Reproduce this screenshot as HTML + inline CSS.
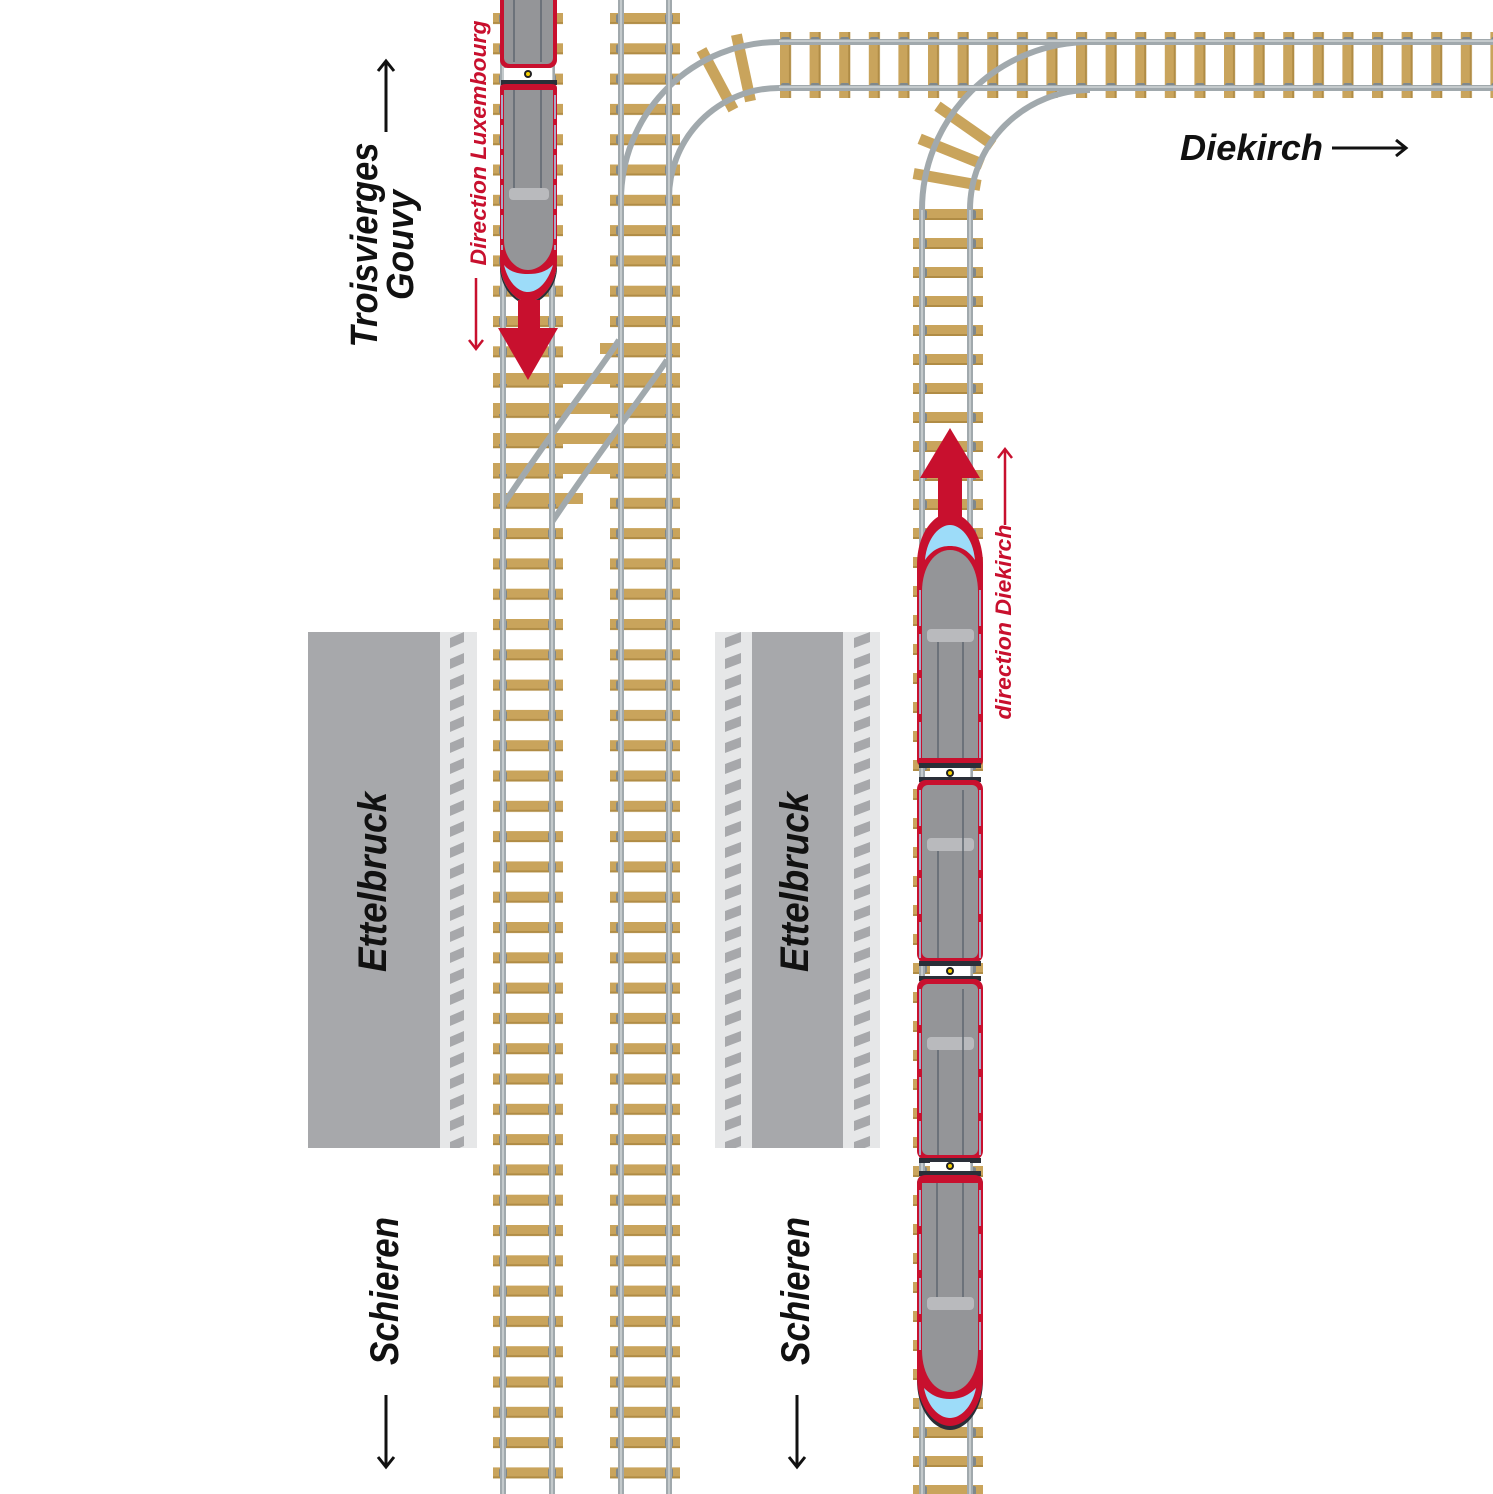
<!DOCTYPE html>
<html><head><meta charset="utf-8"><style>
html,body{margin:0;padding:0;background:#fff;}
svg{display:block;}
text{font-family:"Liberation Sans",sans-serif;font-weight:bold;font-style:italic;}
</style></head><body>
<svg width="1493" height="1494" viewBox="0 0 1493 1494" xmlns="http://www.w3.org/2000/svg">
<defs>
<pattern id="slv" x="493" y="13" width="70" height="30.3" patternUnits="userSpaceOnUse">
<rect x="0" y="0" width="70" height="11" fill="#c9a45c"/><rect x="0" y="9" width="70" height="2" fill="#b08c45"/>
<rect x="6" y="1" width="8" height="9" rx="2" fill="#7f888c"/><rect x="55" y="1" width="8" height="9" rx="2" fill="#7f888c"/>
</pattern>
<pattern id="slv2" x="610" y="13" width="70" height="30.3" patternUnits="userSpaceOnUse">
<rect x="0" y="0" width="70" height="11" fill="#c9a45c"/><rect x="0" y="9" width="70" height="2" fill="#b08c45"/>
<rect x="6" y="1" width="8" height="9" rx="2" fill="#7f888c"/><rect x="55" y="1" width="8" height="9" rx="2" fill="#7f888c"/>
</pattern>
<pattern id="slv3" x="913" y="6" width="70" height="29" patternUnits="userSpaceOnUse">
<rect x="0" y="0" width="70" height="11" fill="#c9a45c"/><rect x="0" y="9" width="70" height="2" fill="#b08c45"/>
<rect x="6" y="1" width="8" height="9" rx="2" fill="#7f888c"/><rect x="55" y="1" width="8" height="9" rx="2" fill="#7f888c"/>
</pattern>
<pattern id="slh" x="780" y="32" width="29.6" height="66" patternUnits="userSpaceOnUse">
<rect x="0" y="0" width="11" height="66" fill="#c9a45c"/><rect x="9" y="0" width="2" height="66" fill="#b08c45"/>
<rect x="1" y="5" width="9" height="8" rx="2" fill="#7f888c"/><rect x="1" y="51" width="9" height="8" rx="2" fill="#7f888c"/>
</pattern>
<pattern id="dashA" x="450" y="632" width="40" height="21" patternUnits="userSpaceOnUse">
<polygon points="0,6 14,0 14,10 0,16" fill="#a7a8ab"/>
</pattern>
<pattern id="dashB" x="725" y="632" width="40" height="21" patternUnits="userSpaceOnUse">
<polygon points="0,6 16,0 16,10 0,16" fill="#a7a8ab"/>
</pattern>
<pattern id="dashC" x="854" y="632" width="40" height="21" patternUnits="userSpaceOnUse">
<polygon points="0,6 16,0 16,10 0,16" fill="#a7a8ab"/>
</pattern>
</defs>

<rect x="493" y="0" width="70" height="1494" fill="url(#slv)"/>
<rect x="610" y="0" width="70" height="1494" fill="url(#slv2)"/>
<rect x="913" y="200" width="70" height="1294" fill="url(#slv3)"/>
<rect x="780" y="32" width="713" height="66" fill="url(#slh)"/>
<g fill="#c9a45c">
<rect x="600" y="343" width="80" height="11"/>
<rect x="493" y="373" width="187" height="11"/>
<rect x="493" y="403" width="187" height="11"/>
<rect x="493" y="433" width="187" height="11"/>
<rect x="493" y="463" width="187" height="11"/>
<rect x="493" y="493" width="90" height="11"/>
</g>
<g fill="#c9a45c">
<rect x="738" y="34" width="11" height="68" transform="rotate(-12 743 68)"/>
<rect x="712" y="46" width="11" height="68" transform="rotate(-28 717 80)"/>
<rect x="960" y="92" width="11" height="68" transform="rotate(-55 965 126)"/>
<rect x="946" y="118" width="11" height="68" transform="rotate(-68 951 152)"/>
<rect x="942" y="146" width="11" height="68" transform="rotate(-80 947 180)"/>
</g>

<g fill="none" stroke="#a1a9ad" stroke-width="6">
<line x1="503" y1="0" x2="503" y2="1494"/><line x1="552" y1="0" x2="552" y2="1494"/>
<line x1="621" y1="0" x2="621" y2="1494"/><line x1="669" y1="0" x2="669" y2="1494"/>
<line x1="922" y1="210" x2="922" y2="1494"/><line x1="970" y1="210" x2="970" y2="1494"/>
<line x1="779" y1="42" x2="1493" y2="42"/><line x1="779" y1="88" x2="1493" y2="88"/>
<path d="M621 200 A158 158 0 0 1 779 42"/>
<path d="M669 200 A110 110 0 0 1 779 88"/>
<path d="M922 210 A168 168 0 0 1 1090 42"/>
<path d="M970 210 A120 120 0 0 1 1090 90"/>
<path d="M619 340 C600 370 560 420 503 505"/>
<path d="M667 360 C640 400 600 450 552 522"/>
</g>
<g fill="none" stroke="#cfd5d7" stroke-width="1.5">
<line x1="503" y1="0" x2="503" y2="1494"/><line x1="552" y1="0" x2="552" y2="1494"/>
<line x1="621" y1="0" x2="621" y2="1494"/><line x1="669" y1="0" x2="669" y2="1494"/>
<line x1="922" y1="210" x2="922" y2="1494"/><line x1="970" y1="210" x2="970" y2="1494"/>
<line x1="779" y1="41" x2="1493" y2="41"/><line x1="779" y1="87" x2="1493" y2="87"/>
</g>

<rect x="308" y="632" width="132" height="516" fill="#a7a8ab"/>
<rect x="440" y="632" width="37" height="516" fill="#e6e7e8"/>
<rect x="450" y="632" width="14" height="516" fill="url(#dashA)"/>
<rect x="752" y="632" width="91" height="516" fill="#a7a8ab"/>
<rect x="715" y="632" width="37" height="516" fill="#e6e7e8"/>
<rect x="843" y="632" width="37" height="516" fill="#e6e7e8"/>
<rect x="725" y="632" width="16" height="516" fill="url(#dashB)"/>
<rect x="854" y="632" width="16" height="516" fill="url(#dashC)"/>

<rect x="500" y="-12" width="57" height="80" rx="8" fill="#c8102e"/>
<rect x="504" y="-12" width="49" height="76" rx="6" fill="#949598"/>
<line x1="514" y1="0" x2="514" y2="62" stroke="#5f6770" stroke-width="1.5"/><line x1="541" y1="0" x2="541" y2="62" stroke="#5f6770" stroke-width="1.5"/>
<rect x="504" y="68" width="48" height="12" fill="#fff"/>
<circle cx="528" cy="74" r="4" fill="#222"/><circle cx="528" cy="74" r="2" fill="#f5d000"/>
<rect x="501" y="80" width="56" height="5" fill="#2a2f38"/>
<path d="M500 88 Q500 84 506 84 L551 84 Q557 84 557 88 L557 262 C557 285 540 302 528 302 C516 302 500 285 500 262Z" fill="#c8102e"/>
<path d="M500 262 C500 285 516 302 528 302 C540 302 557 285 557 262 L557 270 C555 290 540 304 528 304 C516 304 502 290 500 270Z" fill="#2a2f38"/>
<path d="M504 265 C508 282 518 292 528 292 C538 292 548 282 553 265 C546 272 538 274 528 274 C518 274 510 272 504 265Z" fill="#9ddcf9"/>
<path d="M504 90 L553 90 L553 240 C553 258 540 270 528 270 C516 270 504 258 504 240Z" fill="#949598"/>
<line x1="514" y1="90" x2="514" y2="188" stroke="#5f6770" stroke-width="1.5"/><line x1="541" y1="90" x2="541" y2="188" stroke="#5f6770" stroke-width="1.5"/>
<rect x="509" y="188" width="40" height="12" rx="4" fill="#b9babd"/>
<line x1="502" y1="95" x2="502" y2="250" stroke="#9ddcf9" stroke-width="1.5" stroke-dasharray="24 6"/>
<line x1="555" y1="95" x2="555" y2="250" stroke="#9ddcf9" stroke-width="1.5" stroke-dasharray="24 6"/>
<rect x="518" y="300" width="22" height="30" fill="#c8102e"/>
<polygon points="498,328 558,328 528,380" fill="#c8102e"/>

<rect x="938" y="474" width="24" height="46" fill="#c8102e"/>
<polygon points="920,478 980,478 950,428" fill="#c8102e"/>
<path d="M917 760 L917 565 C917 532 935 513 950 513 C965 513 983 532 983 565 L983 760 Q983 766 977 766 L923 766 Q917 766 917 760Z" fill="#c8102e"/>
<path d="M925 560 C927 537 940 525 950 525 C960 525 973 537 975 560 C968 550 960 546 950 546 C940 546 932 550 925 560Z" fill="#9ddcf9"/>
<path d="M922 758 L922 592 C922 566 935 550 950 550 C965 550 978 566 978 592 L978 758Z" fill="#949598"/>
<rect x="927" y="629" width="47" height="13" rx="4" fill="#b9babd"/>
<line x1="938" y1="642" x2="938" y2="758" stroke="#5f6770" stroke-width="1.5"/><line x1="963" y1="642" x2="963" y2="758" stroke="#5f6770" stroke-width="1.5"/>
<line x1="920" y1="590" x2="920" y2="758" stroke="#9ddcf9" stroke-width="1.5" stroke-dasharray="36 8"/>
<line x1="980" y1="590" x2="980" y2="758" stroke="#9ddcf9" stroke-width="1.5" stroke-dasharray="36 8"/>
<rect x="919" y="763" width="62" height="5" fill="#2a2f38"/>
<rect x="930" y="768" width="40" height="10" fill="#fff"/>
<circle cx="950" cy="773" r="4" fill="#222"/><circle cx="950" cy="773" r="2" fill="#f5d000"/>
<rect x="919" y="777" width="62" height="5" fill="#2a2f38"/>
<rect x="917" y="780" width="66" height="183" rx="9" fill="#c8102e"/>
<rect x="922" y="785" width="56" height="173" rx="6" fill="#949598"/>
<rect x="927" y="838" width="47" height="13" rx="4" fill="#b9babd"/>
<line x1="938" y1="851" x2="938" y2="958" stroke="#5f6770" stroke-width="1.5"/><line x1="963" y1="790" x2="963" y2="958" stroke="#5f6770" stroke-width="1.5"/>
<line x1="920" y1="790" x2="920" y2="958" stroke="#9ddcf9" stroke-width="1.5" stroke-dasharray="36 8"/>
<line x1="980" y1="790" x2="980" y2="958" stroke="#9ddcf9" stroke-width="1.5" stroke-dasharray="36 8"/>
<rect x="919" y="961" width="62" height="5" fill="#2a2f38"/>
<rect x="930" y="966" width="40" height="10" fill="#fff"/>
<circle cx="950" cy="971" r="4" fill="#222"/><circle cx="950" cy="971" r="2" fill="#f5d000"/>
<rect x="919" y="976" width="62" height="5" fill="#2a2f38"/>
<rect x="917" y="979" width="66" height="181" rx="9" fill="#c8102e"/>
<rect x="922" y="984" width="56" height="171" rx="6" fill="#949598"/>
<rect x="927" y="1037" width="47" height="13" rx="4" fill="#b9babd"/>
<line x1="938" y1="1050" x2="938" y2="1155" stroke="#5f6770" stroke-width="1.5"/><line x1="963" y1="989" x2="963" y2="1155" stroke="#5f6770" stroke-width="1.5"/>
<line x1="920" y1="989" x2="920" y2="1155" stroke="#9ddcf9" stroke-width="1.5" stroke-dasharray="36 8"/>
<line x1="980" y1="989" x2="980" y2="1155" stroke="#9ddcf9" stroke-width="1.5" stroke-dasharray="36 8"/>
<rect x="919" y="1158" width="62" height="5" fill="#2a2f38"/>
<rect x="930" y="1162" width="40" height="10" fill="#fff"/>
<circle cx="950" cy="1166" r="4" fill="#222"/><circle cx="950" cy="1166" r="2" fill="#f5d000"/>
<rect x="919" y="1171" width="62" height="5" fill="#2a2f38"/>
<path d="M917 1184 Q917 1175 926 1175 L974 1175 Q983 1175 983 1184 L983 1380 C983 1412 965 1430 950 1430 C935 1430 917 1412 917 1380Z" fill="#2a2f38"/>
<path d="M917 1184 Q917 1175 926 1175 L974 1175 Q983 1175 983 1184 L983 1376 C983 1408 965 1426 950 1426 C935 1426 917 1408 917 1376Z" fill="#c8102e"/>
<path d="M924 1388 C928 1408 940 1418 950 1418 C960 1418 972 1408 976 1388 C968 1396 960 1399 950 1399 C940 1399 932 1396 924 1388Z" fill="#9ddcf9"/>
<path d="M922 1183 L978 1183 L978 1350 C978 1376 965 1392 950 1392 C935 1392 922 1376 922 1350Z" fill="#949598"/>
<rect x="927" y="1297" width="47" height="13" rx="4" fill="#b9babd"/>
<line x1="937" y1="1183" x2="937" y2="1297" stroke="#5f6770" stroke-width="1.5"/><line x1="963" y1="1183" x2="963" y2="1297" stroke="#5f6770" stroke-width="1.5"/>
<line x1="920" y1="1190" x2="920" y2="1350" stroke="#9ddcf9" stroke-width="1.5" stroke-dasharray="36 8"/>
<line x1="980" y1="1190" x2="980" y2="1350" stroke="#9ddcf9" stroke-width="1.5" stroke-dasharray="36 8"/>

<g fill="#111">
<text transform="translate(386 882) rotate(-90)" text-anchor="middle" font-size="40" textLength="180" lengthAdjust="spacingAndGlyphs">Ettelbruck</text>
<text transform="translate(808 882) rotate(-90)" text-anchor="middle" font-size="40" textLength="180" lengthAdjust="spacingAndGlyphs">Ettelbruck</text>
<text transform="translate(398 1291) rotate(-90)" text-anchor="middle" font-size="40" textLength="148" lengthAdjust="spacingAndGlyphs">Schieren</text>
<text transform="translate(809 1291) rotate(-90)" text-anchor="middle" font-size="40" textLength="148" lengthAdjust="spacingAndGlyphs">Schieren</text>
<text transform="translate(377 245) rotate(-90)" text-anchor="middle" font-size="38" textLength="205" lengthAdjust="spacingAndGlyphs">Troisvierges</text>
<text transform="translate(413 245) rotate(-90)" text-anchor="middle" font-size="38" textLength="110" lengthAdjust="spacingAndGlyphs">Gouvy</text>
<text x="1180" y="160" font-size="36" textLength="143" lengthAdjust="spacingAndGlyphs">Diekirch</text>
</g>
<g fill="#c8102e">
<text transform="translate(486 143) rotate(-90)" text-anchor="middle" font-size="22" textLength="245" lengthAdjust="spacingAndGlyphs">Direction Luxembourg</text>
<text transform="translate(1011 622) rotate(-90)" text-anchor="middle" font-size="22" textLength="195" lengthAdjust="spacingAndGlyphs">direction Diekirch</text>
</g>
<g stroke="#111" stroke-width="3" fill="none">
<line x1="386" y1="132" x2="386" y2="62"/><polyline points="378,71 386,61 394,71"/>
<line x1="386" y1="1395" x2="386" y2="1466"/><polyline points="378,1457 386,1467 394,1457"/>
<line x1="797" y1="1395" x2="797" y2="1466"/><polyline points="789,1457 797,1467 805,1457"/>
<line x1="1332" y1="148" x2="1404" y2="148"/><polyline points="1396,140 1406,148 1396,156"/>
</g>
<g stroke="#c8102e" stroke-width="2.5" fill="none">
<line x1="476" y1="278" x2="476" y2="348"/><polyline points="469,340 476,349 483,340"/>
<line x1="1005" y1="525" x2="1005" y2="450"/><polyline points="998,458 1005,449 1012,458"/>
</g>
</svg>
</body></html>
